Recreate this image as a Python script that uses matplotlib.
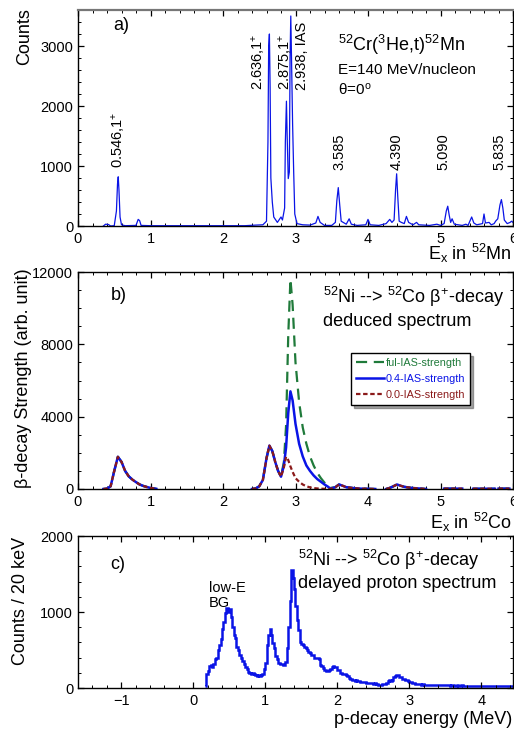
import numpy as np
import matplotlib
matplotlib.use("Agg")
import matplotlib.pyplot as plt
from matplotlib.ticker import MultipleLocator

plt.rcParams['font.family'] = ['Liberation Sans', 'DejaVu Sans']
plt.rcParams['mathtext.fontset'] = 'custom'
plt.rcParams['mathtext.rm'] = 'Liberation Sans'
plt.rcParams['mathtext.it'] = 'Liberation Sans'

# ---- panel a: (3He,t) spectrum, vertices ----
ea_E = [0.35, 0.38, 0.42, 0.45, 0.50, 0.53, 0.545, 0.555, 0.565, 0.58, 0.60, 0.65,
        0.80, 0.83, 0.85, 0.87, 1.0, 2.3, 2.45, 2.55, 2.60, 2.62, 2.63, 2.64, 2.65,
        2.66, 2.68, 2.70, 2.75, 2.80, 2.82, 2.85, 2.86, 2.875, 2.885, 2.90, 2.915,
        2.925, 2.935, 2.945, 2.96, 2.975, 2.99, 3.02, 3.1, 3.2, 3.28, 3.31, 3.34,
        3.4, 3.5, 3.55, 3.57, 3.59, 3.61, 3.63, 3.70, 3.74, 3.77, 3.85, 3.97, 4.0,
        4.03, 4.15, 4.25, 4.30, 4.33, 4.36, 4.38, 4.395, 4.41, 4.43, 4.46, 4.50,
        4.53, 4.56, 4.62, 4.67, 4.70, 4.85, 4.95, 5.0, 5.05, 5.08, 5.10, 5.12,
        5.14, 5.16, 5.19, 5.30, 5.35, 5.38, 5.43, 5.46, 5.5, 5.58, 5.60, 5.62,
        5.67, 5.70, 5.74, 5.76, 5.79, 5.82, 5.84, 5.86, 5.88, 5.92, 5.96, 5.98, 6.0]
ea_cnt = [0, 30, 25, 0, 5, 250, 700, 820, 600, 150, 20, 5,
          10, 110, 90, 10, 5, 5, 15, 20, 80, 1400, 3000, 3200, 2300,
          800, 400, 150, 60, 150, 100, 300, 1400, 2080, 1500, 790, 900,
          2800, 3500, 2800, 1700, 900, 200, 40, 20, 15, 50, 160, 60,
          10, 10, 60, 420, 640, 350, 80, 30, 120, 30, 10, 20, 110,
          20, 10, 40, 110, 60, 100, 600, 870, 500, 80, 60, 40,
          160, 60, 20, 60, 20, 10, 30, 10, 40, 250, 330, 180,
          60, 120, 30, 10, 30, 10, 150, 50, 20, 40, 200, 50,
          60, 20, 40, 80, 120, 350, 440, 300, 100, 40, 60, 80, 60]

peak_names = ["0.546,1$^{+}$", "2.636,1$^{+}$", "2.875,1$^{+}$", "2.938, IAS",
              "3.585", "4.390", "5.090", "5.835"]
peak_lab_E = [0.55, 2.48, 2.855, 3.085, 3.61, 4.40, 5.04, 5.82]
peak_lab_y = [970, 2270, 2270, 2270, 930, 930, 930, 930]

# ---- panel b: deduced beta-decay spectrum ----
nan = np.nan
eb_E = [0.35, 0.40, 0.45, 0.50, 0.55, 0.60, 0.65, 0.70, 0.75, 0.80, 0.85, 0.90, 0.95,
        1.00, 1.05, 1.08, 1.09,
        2.40, 2.45, 2.50, 2.55, 2.60, 2.64, 2.68, 2.72, 2.76, 2.80, 2.84, 2.87, 2.90,
        2.93, 2.96, 3.00, 3.05, 3.10, 3.15, 3.20, 3.25, 3.30, 3.35, 3.40, 3.45, 3.48,
        3.55, 3.60, 3.65, 3.70, 3.80, 3.90, 4.00, 4.10, 4.11,
        4.25, 4.30, 4.35, 4.40, 4.45, 4.50, 4.60, 4.70, 4.80, 4.81,
        5.05, 5.30, 5.31, 5.45, 5.75, 5.76, 5.80, 5.95]
common_lo = [0, 20, 150, 1000, 1780, 1500, 1000, 700, 520, 380, 250, 170, 110,
             60, 30, 10, nan,
             0, 30, 150, 500, 1700, 2400, 2100, 1500, 1000, 680]
common_hi = [100, 250, 180, 100, 50, 20, 10, 0, nan,
             0, 60, 150, 250, 180, 120, 60, 30, 0, nan,
             20, 20, nan, 15, 15, nan, 20, 20]
ful_mid = [1500, 3500, 8500, 11600, 10200, 7000, 4800, 3400, 2500, 1800, 1300, 900,
           600, 350, 180, 60]
p04_mid = [1300, 2300, 4200, 5400, 4900, 3600, 2500, 1800, 1300, 1000, 750, 550,
           400, 250, 120, 20]
p00_mid = [1200, 1780, 1600, 1250, 950, 600, 400, 250, 150, 90, 50, 30,
           20, 10, 0, 0]
legend_names = ["ful-IAS-strength", "0.4-IAS-strength", "0.0-IAS-strength"]

# ---- panel c: delayed proton spectrum, 20 keV bins from 0.16 MeV ----
pc_start = 0.16
pc_bin = 0.02
pc_counts = [30, 180, 220, 290, 300, 280, 310, 380, 400, 500,
             560, 650, 780, 870, 990, 1050, 1000, 1040, 940, 800,
             700, 660, 540, 500, 430, 390, 360, 310, 280, 250,
             210, 200, 190, 200, 180, 170, 160, 170, 160, 170,
             180, 250, 330, 560, 700, 770, 700, 590, 530, 420,
             380, 330, 320, 310, 300, 300, 340, 520, 800, 1150,
             1550, 1450, 1300, 1080, 900, 760, 600, 580, 560, 540,
             530, 500, 470, 460, 430, 440, 400, 400, 390, 380,
             300, 290, 260, 240, 230, 220, 240, 250, 270, 290,
             280, 270, 240, 240, 200, 190, 180, 180, 170, 160,
             130, 120, 110, 100, 95, 100, 90, 95, 85, 80,
             85, 75, 70, 65, 70, 60, 60, 55, 60, 50,
             45, 40, 45, 50, 55, 50, 60, 90, 100, 95,
             110, 150, 160, 175, 170, 150, 140, 125, 120, 110,
             100, 90, 80, 75, 70, 60, 55,
             50, 55, 48, 45, 50, 42, 45, 40, 44, 38, 40, 45, 38, 42, 36,
             40, 35, 38, 45, 36, 33, 38, 35, 30, 34, 38, 32, 30, 35, 28, 30, 33, 29, 30, 27,
             30, 28, 26, 30, 27, 25, 28, 24, 26, 27, 25, 23, 26, 24, 22, 25,
             23, 24, 22, 21, 23, 25, 22, 20, 22, 21, 20, 23, 21, 20, 22, 20]

blue = '#0a14e6'
green = '#1f7a3a'
dred = '#8b1a1a'

W, H = 514, 733
fig = plt.figure(figsize=(W / 100, H / 100), dpi=100)


def px_axes(left, top, right, bottom):
    return fig.add_axes([left / W, 1 - bottom / H, (right - left) / W, (bottom - top) / H])


def style(ax, xmaj, xmin, ymaj, ymin):
    ax.xaxis.set_major_locator(MultipleLocator(xmaj))
    ax.xaxis.set_minor_locator(MultipleLocator(xmin))
    ax.yaxis.set_major_locator(MultipleLocator(ymaj))
    ax.yaxis.set_minor_locator(MultipleLocator(ymin))
    ax.tick_params(which='both', direction='in', top=True, right=True, labelsize=10.5)
    ax.tick_params(which='major', length=4.5, width=0.9)
    ax.tick_params(which='minor', length=2.5, width=0.7)
    ax.tick_params(axis='x', pad=4)
    for s in ax.spines.values():
        s.set_linewidth(1.0)


# panel a
ax1 = px_axes(78, 10, 513, 226)
ax1.plot(ea_E, ea_cnt, color=blue, lw=0.9)
ax1.set_xlim(0, 6)
ax1.set_ylim(0, 3600)
style(ax1, 1, 0.2, 1000, 200)
ax1.spines['top'].set_color('#777777')
ax1.spines['top'].set_linewidth(1.6)
for nm, xx, yy in zip(peak_names, peak_lab_E, peak_lab_y):
    ax1.text(xx, yy, nm, rotation=90, ha='center', va='bottom', fontsize=10.5)
ax1.text(0.08, 0.93, "a)", transform=ax1.transAxes, fontsize=13, va='center')
ax1.text(0.598, 0.838, "$^{52}$Cr($^{3}$He,t)$^{52}$Mn", transform=ax1.transAxes,
         fontsize=13, va='center')
ax1.text(0.598, 0.722, "E=140 MeV/nucleon", transform=ax1.transAxes, fontsize=11, va='center')
ax1.text(0.598, 0.63, "\u03b8=0$^{\\mathrm{o}}$", transform=ax1.transAxes, fontsize=11, va='center')

# panel b
ax2 = px_axes(78, 272, 513, 489)
ful = common_lo + ful_mid + common_hi
p04 = common_lo + p04_mid + common_hi
p00 = common_lo + p00_mid + common_hi
ax2.plot(eb_E, ful, color=green, lw=1.6, ls=(0, (5, 3)), label=legend_names[0])
ax2.plot(eb_E, p04, color=blue, lw=1.8, label=legend_names[1])
ax2.plot(eb_E, p00, color=dred, lw=1.6, ls=(0, (2, 1.2)), label=legend_names[2])
ax2.set_xlim(0, 6)
ax2.set_ylim(0, 12000)
style(ax2, 1, 0.2, 4000, 1000)
leg = ax2.legend(loc='upper left', bbox_to_anchor=(0.622, 0.635), fontsize=7.8,
                 frameon=True, fancybox=False, shadow=True, edgecolor='black',
                 framealpha=1, handlelength=2.6, handletextpad=0.15,
                 borderpad=0.45, labelspacing=0.55, borderaxespad=0.2)
for t, c in zip(leg.get_texts(), [green, blue, dred]):
    t.set_color(c)
ax2.text(0.075, 0.894, "b)", transform=ax2.transAxes, fontsize=13, va='center')
ax2.text(0.563, 0.885, "$^{52}$Ni --> $^{52}$Co \u03b2$^{+}$-decay", transform=ax2.transAxes,
         fontsize=13, va='center')
ax2.text(0.563, 0.77, "deduced spectrum", transform=ax2.transAxes, fontsize=13, va='center')

# panel c
ax3 = px_axes(78, 536, 513, 688)
edges = pc_start + pc_bin * np.arange(len(pc_counts) + 1)
ax3.stairs(pc_counts, edges, color=blue, lw=1.8, baseline=None)
ax3.set_xlim(-1.6, 4.44)
ax3.set_ylim(0, 2000)
style(ax3, 1, 0.2, 1000, 200)
ax3.text(0.075, 0.81, "c)", transform=ax3.transAxes, fontsize=13, va='center')
ax3.text(0.506, 0.84, "$^{52}$Ni --> $^{52}$Co \u03b2$^{+}$-decay", transform=ax3.transAxes,
         fontsize=13, va='center')
ax3.text(0.506, 0.69, "delayed proton spectrum", transform=ax3.transAxes, fontsize=13,
         va='center')
ax3.text(0.30, 0.66, "low-E", transform=ax3.transAxes, fontsize=10.5, va='center')
ax3.text(0.30, 0.56, "BG", transform=ax3.transAxes, fontsize=10.5, va='center')

# axis labels placed in figure pixels
fig.text(25 / W, 1 - 37 / H, "Counts", rotation=90, ha='center', va='center', fontsize=13)
fig.text(24 / W, 1 - 378 / H, "\u03b2-decay Strength (arb. unit)", rotation=90,
         ha='center', va='center', fontsize=13)
fig.text(21 / W, 1 - 601 / H, "Counts / 20 keV", rotation=90, ha='center', va='center',
         fontsize=13)
fig.text(512 / W, 1 - 253 / H, "E$_{x}$ in $^{52}$Mn", ha='right', va='center', fontsize=13)
fig.text(512 / W, 1 - 522 / H, "E$_{x}$ in $^{52}$Co", ha='right', va='center', fontsize=13)
fig.text(512 / W, 1 - 720 / H, "p-decay energy (MeV)", ha='right', va='center', fontsize=13)

fig.savefig("out.png", dpi=100)
